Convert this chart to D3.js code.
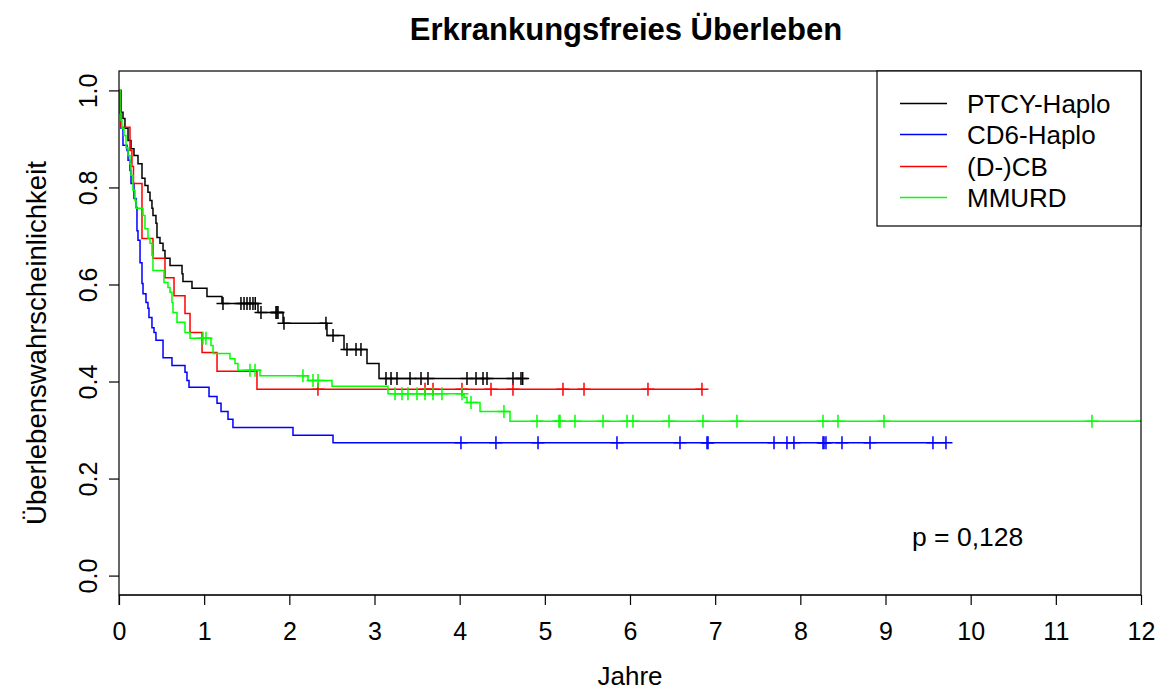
<!DOCTYPE html>
<html lang="de">
<head>
  <meta charset="UTF-8">
  <title>Erkrankungsfreies Überleben</title>
  <script src="https://d3js.org/d3.v7.min.js"></script>
  <style>
    body { margin: 0; background: #fff; }
    text { font-family: "Liberation Sans", Arial, sans-serif; }
  </style>
</head>
<body>
  <div class="canvas"></div>
  <script>
    // Gruppen / Legende
    const groups = ['PTCY-Haplo', 'CD6-Haplo', '(D-)CB', 'MMURD'];
    const colors = ['#000000', '#0000ff', '#ff0000', '#00ff00'];

    // PTCY-Haplo: Ereigniszeiten, Überleben nach dem Ereignis, zensierte Zeiten
    const ptcyTime = [0.023, 0.047, 0.070, 0.106, 0.141, 0.176, 0.223, 0.270, 0.305, 0.340, 0.364, 0.387, 0.399, 0.434, 0.446,
                      0.481, 0.517, 0.540, 0.599, 0.740, 0.751, 0.857, 1.033, 1.209, 1.632, 1.926, 2.442, 2.642, 2.912, 3.053];
    const ptcySurv = [0.955, 0.942, 0.922, 0.897, 0.880, 0.866, 0.849, 0.819, 0.804, 0.790, 0.773, 0.757, 0.742, 0.726, 0.697,
                      0.685, 0.670, 0.654, 0.639, 0.622, 0.606, 0.592, 0.575, 0.561, 0.542, 0.520, 0.495, 0.466, 0.437, 0.406];
    const ptcyCens = [1.221, 1.432, 1.468, 1.503, 1.538, 1.573, 1.600, 1.667, 1.843, 1.855, 1.867, 1.937, 2.430, 2.513, 2.677,
                      2.783, 2.841, 3.135, 3.194, 3.264, 3.417, 3.546, 3.628, 4.086, 4.192, 4.274, 4.321, 4.626, 4.720, 4.740];

    // CD6-Haplo
    const cd6Time = [0.012, 0.023, 0.047, 0.094, 0.106, 0.129, 0.141, 0.176, 0.200, 0.211, 0.223, 0.247, 0.270, 0.282, 0.317, 0.340,
                     0.352, 0.387, 0.411, 0.434, 0.517, 0.622, 0.775, 0.798, 0.822, 1.057, 1.151, 1.198, 1.280, 1.338, 2.043, 2.513];
    const cd6Surv = [0.953, 0.922, 0.887, 0.876, 0.856, 0.835, 0.808, 0.777, 0.759, 0.711, 0.691, 0.645, 0.602, 0.581, 0.563, 0.551,
                     0.532, 0.511, 0.501, 0.485, 0.449, 0.433, 0.419, 0.402, 0.388, 0.369, 0.355, 0.338, 0.322, 0.305, 0.289, 0.274];
    const cd6Cens = [4.015, 4.426, 4.920, 5.847, 6.587, 6.904, 6.916, 7.691, 7.843, 7.925, 8.266, 8.278, 8.301, 8.489, 8.818, 9.557, 9.710];

    // (D-)CB
    const cbTime = [0.023, 0.129, 0.152, 0.170, 0.270, 0.399, 0.540, 0.646, 0.775, 0.834, 0.975, 1.151, 1.620];
    const cbSurv = [0.924, 0.876, 0.843, 0.808, 0.695, 0.654, 0.614, 0.577, 0.540, 0.501, 0.460, 0.421, 0.384];
    const cbCens = [2.336, 3.593, 3.687, 4.027, 4.368, 4.626, 5.213, 5.460, 6.211, 6.845];

    // MMURD
    const mmTime = [0.012, 0.023, 0.035, 0.059, 0.082, 0.106, 0.129, 0.141, 0.164, 0.188, 0.200, 0.282, 0.305, 0.340, 0.364, 0.387,
                    0.399, 0.528, 0.575, 0.599, 0.622, 0.634, 0.681, 0.775, 0.834, 1.080, 1.104, 1.303, 1.362, 1.397, 1.655, 2.219,
                    2.501, 3.158, 4.051, 4.086, 4.239, 4.591];
    const mmSurv = [0.953, 0.938, 0.922, 0.907, 0.882, 0.866, 0.849, 0.825, 0.794, 0.773, 0.757, 0.742, 0.715, 0.695, 0.685, 0.660,
                    0.629, 0.604, 0.594, 0.584, 0.563, 0.542, 0.522, 0.501, 0.489, 0.474, 0.458, 0.447, 0.437, 0.423, 0.412, 0.402,
                    0.390, 0.375, 0.367, 0.357, 0.338, 0.318];
    const mmCens = [0.986, 1.021, 1.538, 1.597, 2.160, 2.278, 2.337, 3.241, 3.323, 3.393, 3.499, 3.593, 3.687, 3.792, 4.027, 4.133,
                    4.520, 4.908, 5.166, 5.178, 5.354, 5.683, 5.965, 6.035, 6.458, 6.857, 7.256, 8.266, 8.442, 8.982, 11.424, 12.01];

    const xTicks = d3.range(0, 13);
    const yTicks = [0, 0.2, 0.4, 0.6, 0.8, 1.0];
    const pText = 'p = 0,128';

    const series = [
      { time: ptcyTime, surv: ptcySurv, cens: ptcyCens },
      { time: cd6Time, surv: cd6Surv, cens: cd6Cens },
      { time: cbTime, surv: cbSurv, cens: cbCens },
      { time: mmTime, surv: mmSurv, cens: mmCens }
    ];

    const width = 1157;
    const height = 692;
    const [bl, br, bt, bb] = [119, 1141, 71, 595];

    const svg = d3.select('.canvas')
                  .append('svg')
                  .attr('width', width)
                  .attr('height', height);

    const x = d3.scaleLinear().domain([0, 12]).range([bl, br]);
    const y = d3.scaleLinear().domain([-0.04, 1.04]).range([bb, bt]);

    svg.append('clipPath').attr('id', 'plotclip')
       .append('rect')
       .attr('x', bl).attr('y', bt).attr('width', br - bl).attr('height', bb - bt);

    // Kurven
    const plot = svg.append('g').attr('clip-path', 'url(#plotclip)');
    const line = d3.line()
                   .x(d => x(d[0]))
                   .y(d => y(d[1]))
                   .curve(d3.curveStepAfter);

    series.forEach((s, i) => {
      const end = Math.max(d3.max(s.time), d3.max(s.cens));
      const pts = [[0, 1]].concat(s.time.map((t, j) => [t, s.surv[j]]));
      pts.push([end, s.surv[s.surv.length - 1]]);
      plot.append('path')
          .attr('d', line(pts))
          .attr('fill', 'none')
          .attr('stroke', colors[i])
          .attr('stroke-width', 1.5);

      // Zensierungen als '+'
      const survAt = t => {
        const k = d3.bisectRight(s.time, t);
        return k === 0 ? 1 : s.surv[k - 1];
      };
      const marks = plot.append('g').selectAll('path').data(s.cens).enter();
      marks.append('path')
           .attr('d', t => {
             const cx = x(t), cy = y(survAt(t));
             return `M${cx - 6.5},${cy}H${cx + 6.5}M${cx},${cy - 6.5}V${cy + 6.5}`;
           })
           .attr('stroke', colors[i])
           .attr('stroke-width', 1.5)
           .attr('fill', 'none');
    });

    // Rahmen
    svg.append('rect')
       .attr('x', bl).attr('y', bt).attr('width', br - bl).attr('height', bb - bt)
       .attr('fill', 'none').attr('stroke', '#000').attr('stroke-width', 1.2);

    // Achsen
    const xAxis = d3.axisBottom(x).tickValues(xTicks).tickSize(10).tickPadding(17).tickFormat(d3.format('d'));
    const xAxisG = svg.append('g').attr('transform', `translate(0, ${bb})`).call(xAxis);

    const yAxis = d3.axisLeft(y).tickValues(yTicks).tickSize(10).tickFormat(d3.format('.1f'));
    const yAxisG = svg.append('g').attr('transform', `translate(${bl}, 0)`).call(yAxis);

    [xAxisG, yAxisG].forEach(g => {
      g.select('.domain').attr('stroke', '#000').attr('stroke-width', 1.2);
      g.selectAll('.tick line').attr('stroke', '#000').attr('stroke-width', 1.2);
      g.selectAll('.tick text').attr('fill', '#000').style('font-size', '25px')
       .style('font-family', '"Liberation Sans", Arial, sans-serif');
    });
    xAxisG.select('.domain').attr('stroke', 'none');
    xAxisG.append('path').attr('d', `M${x(0)},10V0H${x(12)}`).attr('stroke', '#000').attr('fill', 'none');
    yAxisG.select('.domain').attr('stroke', 'none');

    // Y-Beschriftungen gedreht (parallel zur Achse)
    yAxisG.selectAll('.tick text')
          .attr('x', null).attr('dy', null)
          .attr('text-anchor', 'middle')
          .attr('transform', 'translate(-22, 0) rotate(-90)');

    // Titel und Achsentitel
    svg.append('text')
       .attr('x', 626).attr('y', 40)
       .attr('text-anchor', 'middle')
       .style('font-size', '31px').style('font-weight', 'bold')
       .text('Erkrankungsfreies Überleben');

    svg.append('text')
       .attr('x', (bl + br) / 2).attr('y', 685)
       .attr('text-anchor', 'middle')
       .style('font-size', '26px')
       .text('Jahre');

    svg.append('text')
       .attr('transform', `translate(46, 343) rotate(-90)`)
       .attr('text-anchor', 'middle')
       .style('font-size', '27.5px')
       .text('Überlebenswahrscheinlichkeit');

    // Legende
    const leg = svg.append('g');
    leg.append('rect')
       .attr('x', 877).attr('y', bt).attr('width', br - 877).attr('height', 155)
       .attr('fill', '#fff').attr('stroke', '#000').attr('stroke-width', 1.2);
    groups.forEach((g, i) => {
      const cy = Math.round(103 + i * 31.3) + 0.5;
      leg.append('line')
         .attr('x1', 900).attr('x2', 947).attr('y1', cy).attr('y2', cy)
         .attr('stroke', colors[i]).attr('stroke-width', 1.5);
      leg.append('text')
         .attr('x', 967).attr('y', cy + 9)
         .style('font-size', '26px')
         .text(g);
    });

    svg.append('text')
       .attr('x', 912).attr('y', 546)
       .style('font-size', '26.5px')
       .text(pText);
  </script>
</body>
</html>
